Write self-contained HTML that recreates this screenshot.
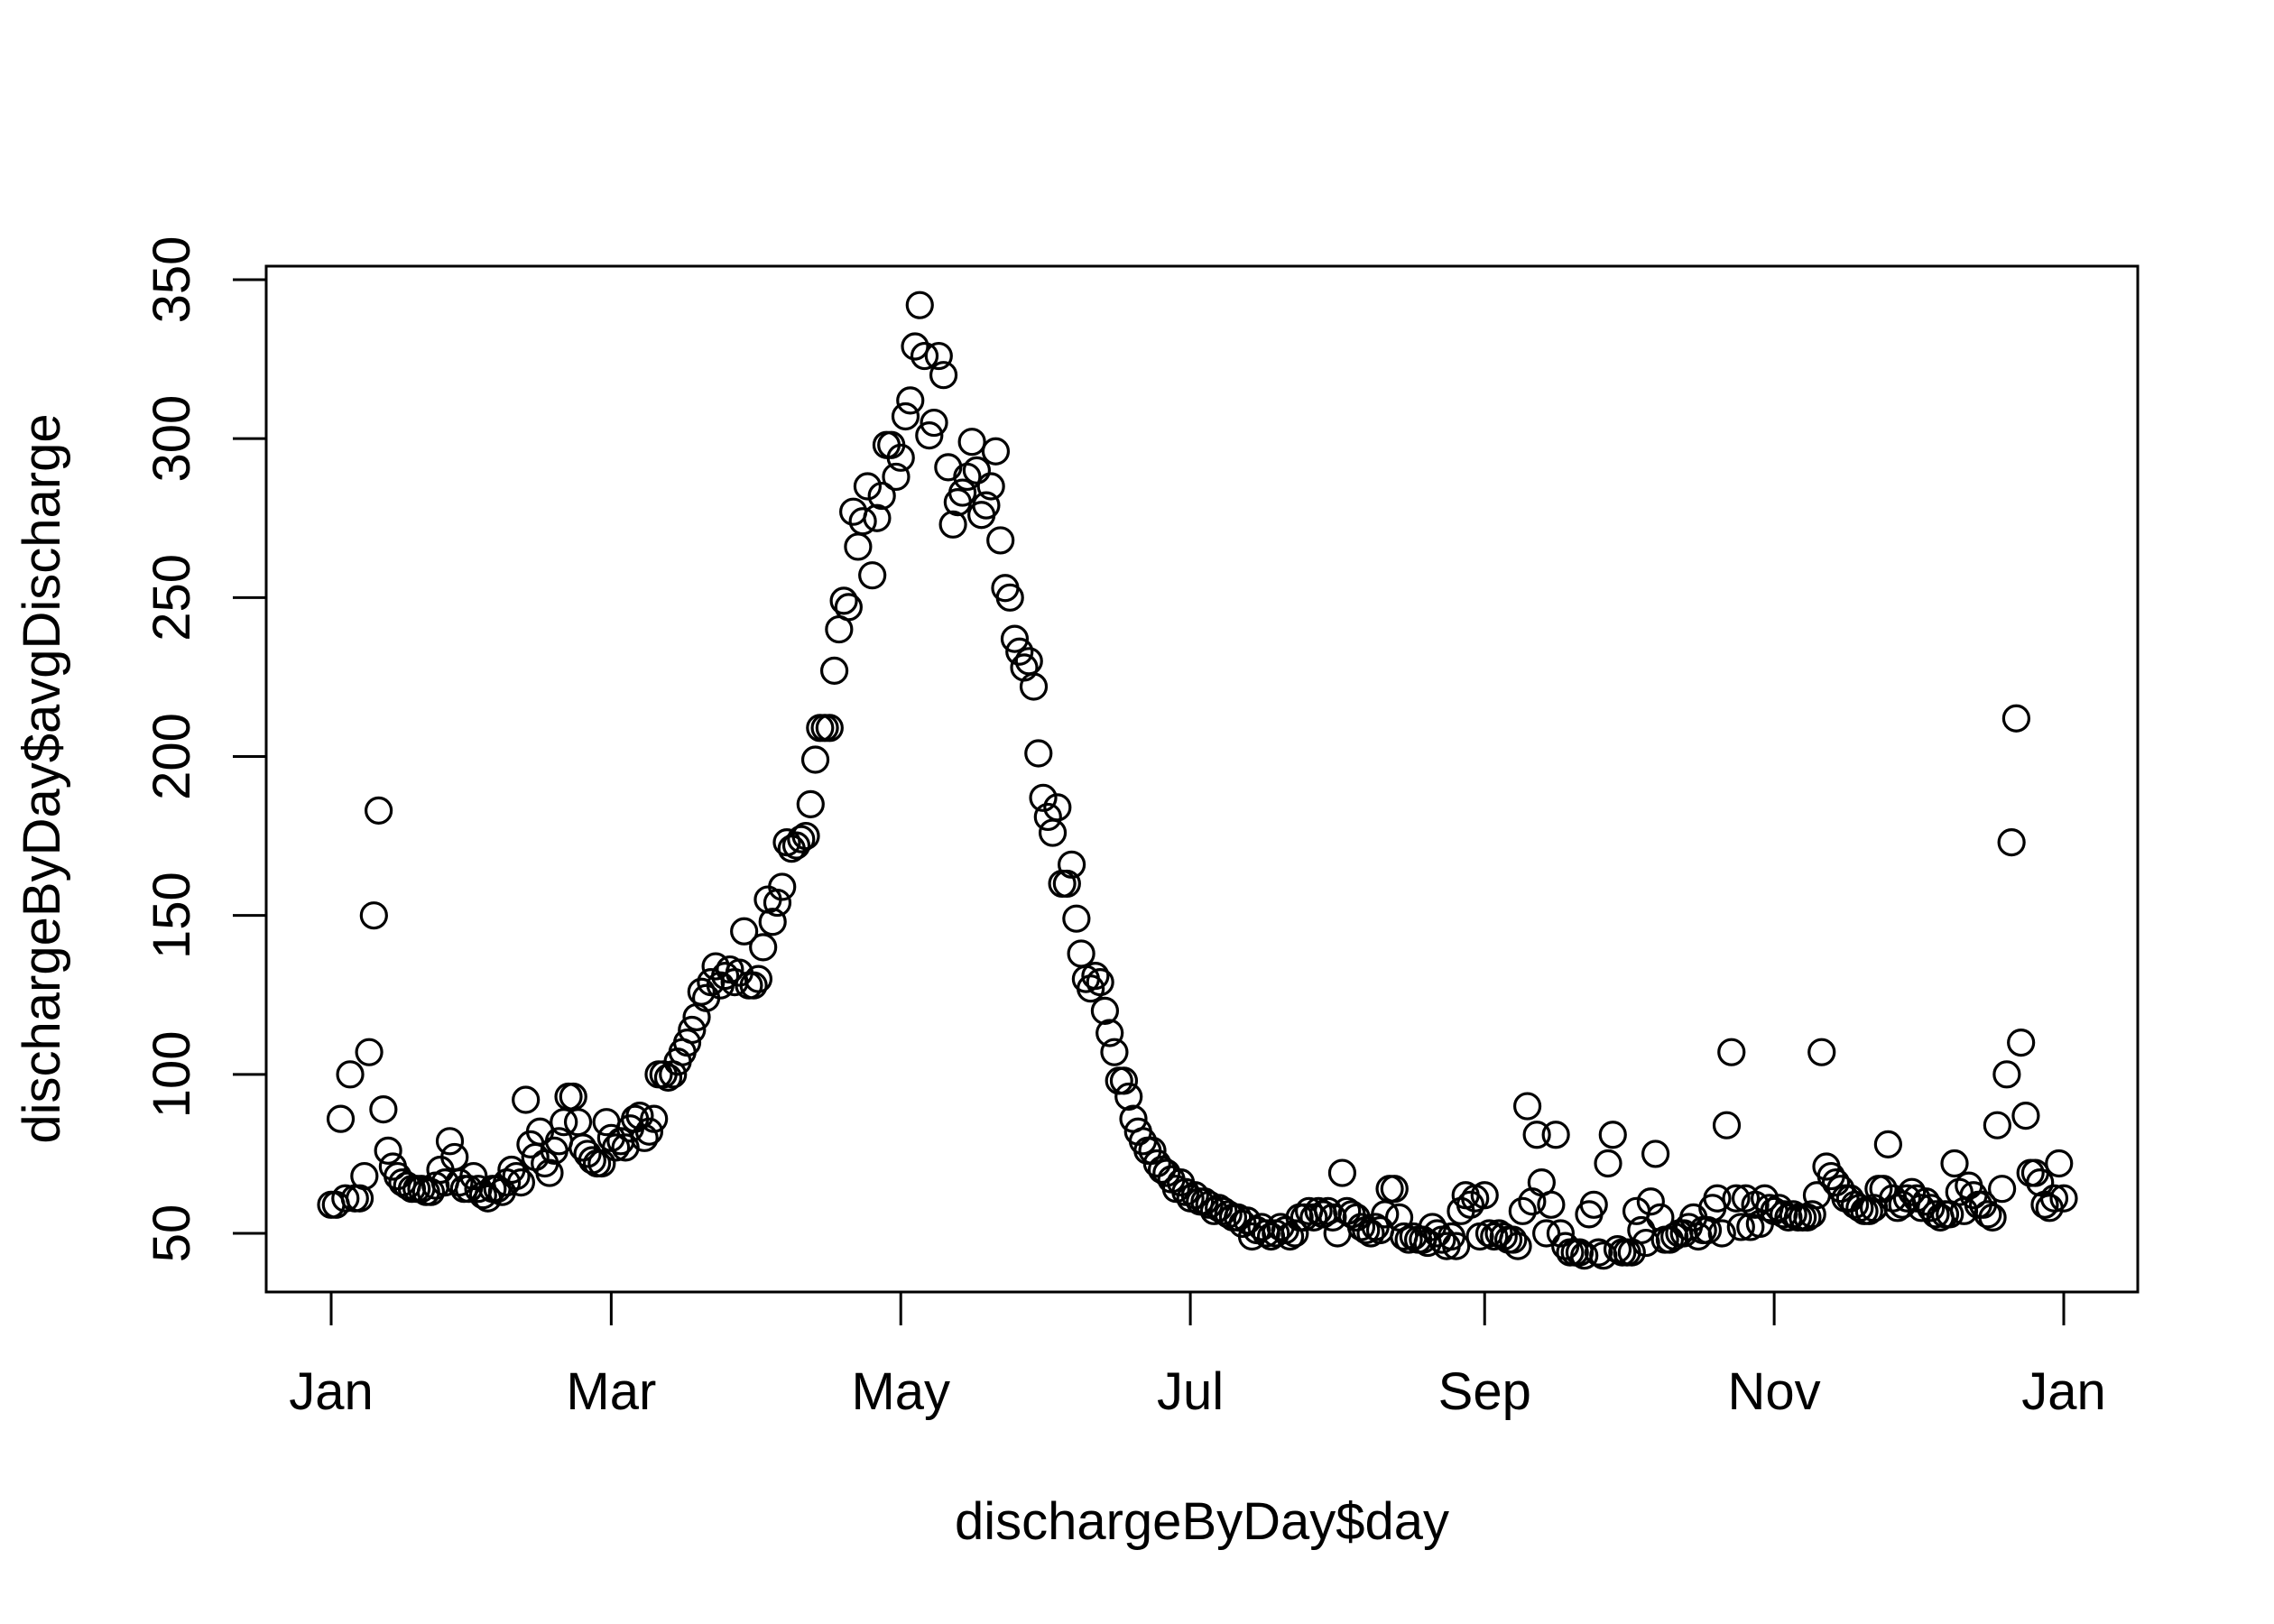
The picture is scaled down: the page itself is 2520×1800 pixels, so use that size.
<!DOCTYPE html>
<html><head><meta charset="utf-8"><style>
html,body{margin:0;padding:0;background:#fff;}
svg{display:block;font-family:"Liberation Sans",Arial,sans-serif;}
</style></head><body>
<svg id="chart" width="2520" height="1800" viewBox="0 0 2520 1800" xmlns="http://www.w3.org/2000/svg">
<rect x="0" y="0" width="2520" height="1800" fill="#fff"/>
<g id="points"></g>
<rect x="295" y="295" width="2074" height="1137" fill="none" stroke="#000" stroke-width="3"/>
<g id="xaxis"></g>
<g id="yaxis"></g>
<text x="1332" y="1706" font-size="58" text-anchor="middle">dischargeByDay$day</text>
<text x="0" y="0" font-size="58" text-anchor="middle" transform="translate(66,863) rotate(-90)">dischargeByDay$avgDischarge</text>
</svg>
<script>
const values = [59,59,86,61,100,61,61,68,107,150,183,89,76,71,68,66,65,64,64,64,63,63,65,70,66,79,74,66,64,64,68,
64,62,61,64,64,63,66,70,68,66,92,78,74,82,72,69,76,79,85,93,93,85,77,75,73,72,72,85,
80,77,79,77,83,86,87,80,82,86,100,100,99,100,104,107,110,114,118,126,124,129,134,128,131,133,129,132,145,128,128,
130,140,155,148,154,159,173,171,172,174,175,185,199,209,209,209,227,240,249,247,277,266,274,285,257,275,282,298,298,288,
294,307,312,329,342,326,301,305,326,320,291,273,280,283,288,299,290,276,279,285,296,268,253,250,237,233,228,230,222,201,187,
181,176,184,160,160,166,149,138,130,127,131,129,120,113,107,98,98,93,86,82,79,76,76,72,70,69,67,64,66,63,
61,62,60,60,59,57,58,57,56,55,55,53,54,49,51,52,50,49,50,52,51,49,50,55,55,57,55,57,56,57,55,
50,69,57,56,55,52,51,50,52,51,56,64,64,55,49,48,49,48,48,47,52,50,48,46,49,46,57,62,59,61,49,
62,50,49,50,49,48,48,46,57,90,60,81,66,50,59,81,50,46,44,44,44,43,56,59,44,43,72,81,45,44,
44,44,57,51,47,60,75,55,48,48,49,50,50,52,55,49,51,51,58,61,50,84,107,61,52,61,52,59,53,61,58,
57,58,56,55,56,55,55,55,56,62,107,71,68,66,64,61,61,59,58,57,57,58,64,64,78,61,58,59,61,63,
61,58,60,58,56,55,56,56,72,63,57,65,62,59,59,56,55,84,64,100,173,212,110,87,69,69,66,59,58,61,72,61];
const yTicks = [50,100,150,200,250,300,350];
const xTickDays = [1,60,121,182,244,305,366];
const xTickLabels = ["Jan","Mar","May","Jul","Sep","Nov","Jan"];
const NS="http://www.w3.org/2000/svg";
function xs(day){return 367+(day-1)*1920/365;}
function ys(v){return 1367-(v-50)*1057/300;}
const pts=document.getElementById('points');
values.forEach((v,i)=>{
  const c=document.createElementNS(NS,'circle');
  c.setAttribute('cx',xs(i+1));c.setAttribute('cy',ys(v));c.setAttribute('r',14);
  c.setAttribute('fill','none');c.setAttribute('stroke','#000');c.setAttribute('stroke-width','3.2');
  
  
  pts.appendChild(c);
});
const xa=document.getElementById('xaxis');
const xl=document.createElementNS(NS,'line');
xl.setAttribute('x1',xs(xTickDays[0]));xl.setAttribute('x2',xs(xTickDays[xTickDays.length-1]));
xl.setAttribute('y1',1432);xl.setAttribute('y2',1432);xl.setAttribute('stroke','#000');xl.setAttribute('stroke-width','3');


xa.appendChild(xl);
xTickDays.forEach((d,i)=>{
  const t=document.createElementNS(NS,'line');
  t.setAttribute('x1',xs(d));t.setAttribute('x2',xs(d));t.setAttribute('y1',1432);t.setAttribute('y2',1469);
  t.setAttribute('stroke','#000');t.setAttribute('stroke-width','3');
  
  
  xa.appendChild(t);
  const tx=document.createElementNS(NS,'text');
  tx.setAttribute('x',xs(d));tx.setAttribute('y',1562);tx.setAttribute('font-size','58');tx.setAttribute('text-anchor','middle');
  tx.textContent=xTickLabels[i];
  
  
  xa.appendChild(tx);
});
const ya=document.getElementById('yaxis');
const yl=document.createElementNS(NS,'line');
yl.setAttribute('x1',295);yl.setAttribute('x2',295);yl.setAttribute('y1',ys(yTicks[0]));yl.setAttribute('y2',ys(yTicks[yTicks.length-1]));
yl.setAttribute('stroke','#000');yl.setAttribute('stroke-width','3');


ya.appendChild(yl);
yTicks.forEach(v=>{
  const t=document.createElementNS(NS,'line');
  t.setAttribute('x1',258);t.setAttribute('x2',295);t.setAttribute('y1',ys(v));t.setAttribute('y2',ys(v));
  t.setAttribute('stroke','#000');t.setAttribute('stroke-width','3');
  
  
  ya.appendChild(t);
  const tx=document.createElementNS(NS,'text');
  tx.setAttribute('x',0);tx.setAttribute('y',0);tx.setAttribute('font-size','58');tx.setAttribute('text-anchor','middle');
  tx.setAttribute('transform','translate(210,'+ys(v)+') rotate(-90)');
  tx.textContent=String(v);
  
  
  ya.appendChild(tx);
});
</script>
</body></html>
